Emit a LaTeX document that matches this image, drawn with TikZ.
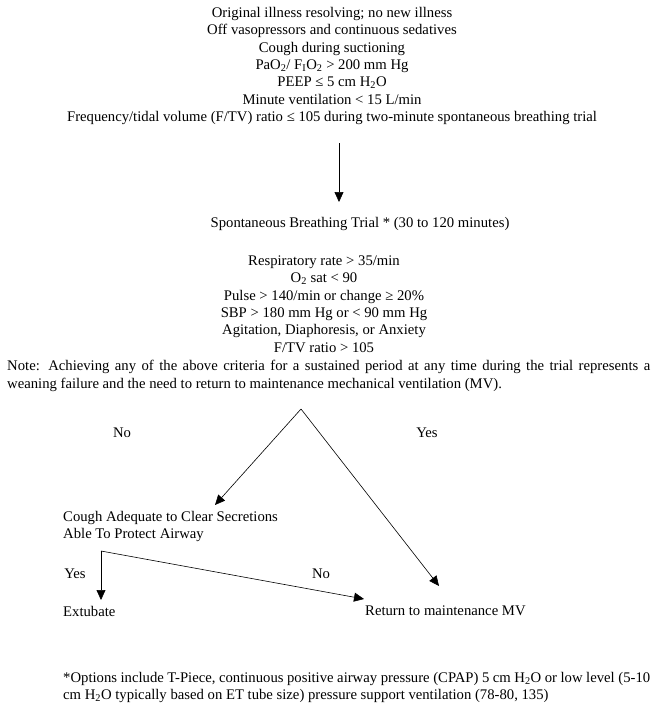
\documentclass[tikz,border=0pt]{standalone}
\usepackage{fontspec}
\setmainfont{Liberation Serif}
\usetikzlibrary{arrows.meta}
\begin{document}
\begin{tikzpicture}[x=1pt,y=-1pt,
  font=\fontsize{14.7}{17.3}\selectfont,
  txt/.style={inner sep=0pt, align=center},
  ltxt/.style={inner sep=0pt, anchor=west, align=left},
  arr/.style={-{Triangle[length=10pt,width=9pt]}, line width=0.6pt}]
\useasboundingbox (0,0) rectangle (657,706);
\node[txt] (crit) at (332,66) {Original illness resolving; no new illness\\
Off vasopressors and continuous sedatives\\
Cough during suctioning\\
PaO\textsubscript{2}/ F\textsubscript{I}O\textsubscript{2} {>} 200 mm Hg\\
PEEP ≤ 5 cm H\textsubscript{2}O\\
Minute ventilation {<} 15 L/min\\
Frequency/tidal volume (F/TV) ratio ≤ 105 during two-minute spontaneous breathing trial};
\coordinate (a1) at (339,143);
\coordinate (a2) at (339,202);
\draw[arr] (a1) -- (a2);
\node[txt] (sbt) at (360,224) {Spontaneous Breathing Trial * (30 to 120 minutes)};
\node[txt] (fail) at (324,304) {Respiratory rate {>} 35/min\\
O\textsubscript{2} sat {<} 90\\
Pulse {>} 140/min or change ≥ 20\%\\
SBP {>} 180 mm Hg or {<} 90 mm Hg\\
Agitation, Diaphoresis, or Anxiety\\
F/TV ratio {>} 105};
\node[ltxt] (note) at (7,376) {\makebox[643pt][s]{Note: Achieving any of the above criteria for a sustained period at any time during the trial represents a}\\
weaning failure and the need to return to maintenance mechanical ventilation (MV).};
\coordinate (apex) at (301,409);
\coordinate (lt) at (215,505);
\coordinate (rt) at (439,586);
\draw[arr] (apex) -- (lt);
\draw[arr] (apex) -- (rt);
\node[txt] (no1) at (122,433) {No};
\node[txt] (yes1) at (427,433) {Yes};
\node[ltxt] (cough) at (63,518) {Cough Adequate to Clear Secretions};
\node[ltxt] (airway) at (63,535) {Able To Protect Airway};
\coordinate (corner) at (101,551);
\coordinate (ex) at (101,600);
\coordinate (rm) at (364,599);
\draw[arr] (corner) -- (ex);
\draw[arr] (corner) -- (rm);
\node[txt] (yes2) at (75,574) {Yes};
\node[txt] (no2) at (321,574) {No};
\node[ltxt] (extubate) at (63,611) {Extubate};
\node[ltxt] (ret) at (365,611) {Return to maintenance MV};
\node[ltxt] (foot) at (63,687.5) {\makebox[587pt][s]{*Options include T-Piece, continuous positive airway pressure (CPAP) 5 cm H\textsubscript{2}O or low level (5-10}\\
cm H\textsubscript{2}O typically based on ET tube size) pressure support ventilation (78-80, 135)};
\end{tikzpicture}
\end{document}
